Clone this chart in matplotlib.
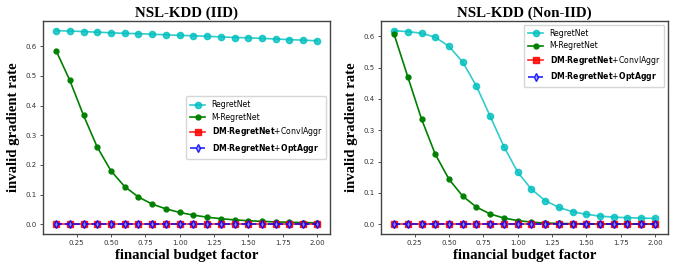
import numpy as np
import matplotlib
matplotlib.use("Agg")
import matplotlib.pyplot as plt

budget = [0.1, 0.2, 0.3, 0.4, 0.5, 0.6, 0.7, 0.8, 0.9, 1.0,
          1.1, 1.2, 1.3, 1.4, 1.5, 1.6, 1.7, 1.8, 1.9, 2.0]

iid_regretnet = [0.652, 0.651, 0.649, 0.647, 0.645, 0.643, 0.642, 0.640, 0.638, 0.636,
                 0.635, 0.633, 0.631, 0.629, 0.628, 0.626, 0.624, 0.622, 0.620, 0.618]
iid_mregretnet = [0.585, 0.485, 0.367, 0.260, 0.180, 0.127, 0.092, 0.068, 0.052, 0.040,
                  0.031, 0.024, 0.019, 0.015, 0.012, 0.010, 0.008, 0.007, 0.006, 0.005]
iid_dm_conv = [0.0] * 20
iid_dm_opt = [0.0] * 20

non_regretnet = [0.618, 0.615, 0.610, 0.597, 0.568, 0.518, 0.441, 0.345, 0.248, 0.167,
                 0.112, 0.076, 0.054, 0.040, 0.032, 0.026, 0.023, 0.021, 0.020, 0.019]
non_mregretnet = [0.607, 0.471, 0.336, 0.224, 0.144, 0.090, 0.055, 0.033, 0.020, 0.012,
                  0.007, 0.004, 0.003, 0.002, 0.002, 0.001, 0.001, 0.001, 0.001, 0.001]
non_dm_conv = [0.0] * 20
non_dm_opt = [0.0] * 20

titles = ["NSL-KDD (IID)", "NSL-KDD (Non-IID)"]
labels = ["RegretNet", "M-RegretNet",
          r"$\mathbf{DM}$-$\mathbf{RegretNet}$+ConvlAggr",
          r"$\mathbf{DM}$-$\mathbf{RegretNet}$+$\mathbf{OptAggr}$"]
xlabel = "financial budget factor"
ylabel = "invalid gradient rate"

fig = plt.figure(figsize=(6.8, 2.68), dpi=100)
axL = fig.add_axes([43/680, 1-234/268, (330-43)/680, (234-21)/268])
axR = fig.add_axes([381/680, 1-234/268, (668-381)/680, (234-21)/268])

serif = ["Liberation Serif", "DejaVu Serif"]
data = [(axL, iid_regretnet, iid_mregretnet, iid_dm_conv, iid_dm_opt, "center right"),
        (axR, non_regretnet, non_mregretnet, non_dm_conv, non_dm_opt, "upper right")]

for i, (ax, r, m, c, o, loc) in enumerate(data):
    ax.plot(budget, r, color="c", marker="o", markersize=4.5, lw=1.2, alpha=0.8, label=labels[0])
    ax.plot(budget, m, color="g", marker="o", markersize=3.5, lw=1.2, label=labels[1])
    ax.plot(budget, c, color="red", marker="s", markersize=4, lw=1.2, alpha=0.85, label=labels[2])
    ax.plot(budget, o, color="blue", marker="d", markersize=4, lw=1.2, ls="--",
            mfc=(0.6, 0.6, 1.0, 0.5), alpha=0.85, label=labels[3])
    ax.set_title(titles[i], family=serif, fontweight="bold", fontsize=10.8, pad=3)
    ax.set_xlabel(xlabel, family=serif, fontweight="bold", fontsize=10.6, labelpad=2)
    ax.set_ylabel(ylabel, family=serif, fontweight="bold", fontsize=10.6, labelpad=4)
    ax.set_xticks([0.25, 0.5, 0.75, 1.0, 1.25, 1.5, 1.75, 2.0])
    ax.tick_params(labelsize=5, length=2.5, width=0.6, colors="#333333", pad=2)
    for s in ax.spines.values():
        s.set_linewidth(1.0)
        s.set_color("#444444")
    ax.legend(loc=loc, fontsize=5.6, framealpha=0.8, borderpad=0.5, labelspacing=0.45,
              handlelength=2.0)

fig.savefig("out.png", dpi=100)
